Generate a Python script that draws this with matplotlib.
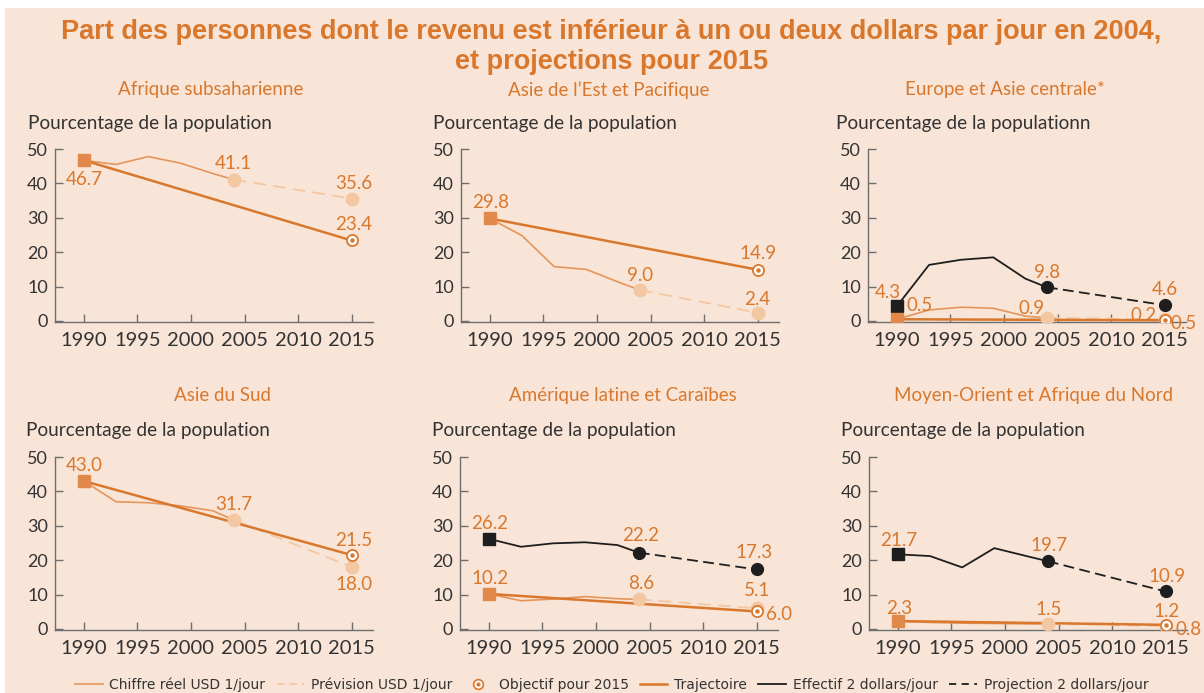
import matplotlib.pyplot as plt
from matplotlib.lines import Line2D
from matplotlib.patches import Rectangle

# --- data -------------------------------------------------------------
years_real = [1990, 1993, 1996, 1999, 2002, 2004]
years_proj = [2004, 2015]
years_traj = [1990, 2015]

regions = ["Afrique subsaharienne", "Asie de l\u2019Est et Pacifique", "Europe et Asie centrale*",
           "Asie du Sud", "Amérique latine et Caraïbes", "Moyen-Orient et Afrique du Nord"]
ylabels = ["Pourcentage de la population", "Pourcentage de la population",
           "Pourcentage de la populationn", "Pourcentage de la population",
           "Pourcentage de la population", "Pourcentage de la population"]

# 1 dollar par jour : chiffres reels 1990-2004
reel_1 = [
    [46.7, 45.5, 47.8, 45.9, 42.9, 41.1],
    [29.8, 24.8, 15.8, 15.0, 11.3, 9.0],
    [0.5, 3.2, 4.0, 3.7, 1.4, 0.9],
    [43.0, 37.0, 36.7, 35.8, 34.4, 31.7],
    [10.2, 8.2, 8.7, 9.4, 8.8, 8.6],
    [2.3, 1.9, 1.7, 1.6, 1.5, 1.5],
]
prevision_1 = [35.6, 2.4, 0.5, 18.0, 6.0, 0.8]
objectif_1 = [23.4, 14.9, 0.2, 21.5, 5.1, 1.2]

# 2 dollars par jour (seulement trois regions)
effectif_2 = [
    None,
    None,
    [4.3, 16.3, 17.8, 18.5, 12.3, 9.8],
    None,
    [26.2, 23.9, 24.9, 25.2, 24.4, 22.2],
    [21.7, 21.2, 17.9, 23.5, 21.2, 19.7],
]
projection_2 = [None, None, 4.6, None, 17.3, 10.9]

# --- layout / style ---------------------------------------------------
W, H = 1204, 693
BG = "#f8e5d8"
ORANGE = "#d9782d"
ORANGE_REEL = "#e5955a"
ORANGE_SQ = "#e0894a"
PEACH = "#f4c7a3"
BLACK = "#1e1e1e"
GREY = "#333333"
FONT = ["Lato", "DejaVu Sans"]

axes_px = [(55, 149), (461, 149), (868, 149), (55, 457), (460, 457), (869, 457)]
title_px = [(211, 90), (609, 90), (1005, 90), (223, 395), (623, 395), (1034, 395)]
ylabel_px = [(28, 123), (433, 123), (836, 123), (26, 430), (432, 430), (841, 430)]

# label offsets in pixels from the point
offsets = [
    {"debut": (0, -19), "fin": (0, 16), "prev": (2, 15), "obj": (2, 16)},
    {"debut": (1, 16), "fin": (0, 15), "prev": (0, 13), "obj": (0, 16)},
    {"debut": (23, 14), "fin": (-15, 9), "prev": (19, -4), "obj": (-21, 5),
     "eff_debut": (-9, 14), "eff_fin": (0, 15), "proj": (0, 16)},
    {"debut": (0, 16), "fin": (0, 15), "prev": (2, -17), "obj": (2, 15)},
    {"debut": (1, 15), "fin": (2, 16), "prev": (22, -6), "obj": (0, 21),
     "eff_debut": (1, 15), "eff_fin": (2, 17), "proj": (-3, 17)},
    {"debut": (1, 13), "fin": (1, 14), "prev": (23, -3), "obj": (1, 13),
     "eff_debut": (1, 14), "eff_fin": (1, 16), "proj": (1, 15)},
]

fig = plt.figure(figsize=(W / 100, H / 100), dpi=100, facecolor="white")
fig.patches.append(Rectangle((5 / W, 0), 1, 1 - 8 / H, transform=fig.transFigure,
                             facecolor=BG, edgecolor="none", zorder=-5))

fig.text(0.508, 1 - 32 / H, "Part des personnes dont le revenu est inférieur à un ou deux dollars par jour en 2004,",
         ha="center", va="center", color=ORANGE, fontsize=19.5, fontweight="bold",
         family="Liberation Sans")
fig.text(0.508, 1 - 62 / H, "et projections pour 2015", ha="center", va="center",
         color=ORANGE, fontsize=19.5, fontweight="bold", family="Liberation Sans")


def label(ax, x, y, txt, off):
    ax.annotate(txt, (x, y), xytext=off, textcoords="offset pixels", ha="center",
                va="center", color=ORANGE, fontsize=13.5, family=FONT, zorder=10)


def target(ax, x, y):
    ax.plot(x, y, "o", ms=8, mfc="white", mec=ORANGE, mew=1.3, zorder=6)
    ax.plot(x, y, "o", ms=2.2, color=ORANGE, zorder=7)


for i in range(6):
    lx, ty = axes_px[i]
    ax = fig.add_axes([lx / W, 1 - (ty + 173) / H, 318 / W, 173 / H])
    ax.set_facecolor("none")
    ax.set_xlim(1987.3, 2017)
    ax.set_ylim(-0.3, 50)
    for s in ["top", "right"]:
        ax.spines[s].set_visible(False)
    for s in ["left", "bottom"]:
        ax.spines[s].set_color("#6e6e6e")
        ax.spines[s].set_linewidth(1)
    ax.set_xticks([1990, 1995, 2000, 2005, 2010, 2015])
    ax.set_yticks([0, 10, 20, 30, 40, 50])
    ax.tick_params(direction="in", length=6, width=1, color="#6e6e6e", labelcolor=GREY)
    ax.tick_params(axis="x", labelsize=14.5, pad=7)
    ax.tick_params(axis="y", labelsize=13, pad=5)
    for t in ax.get_xticklabels() + ax.get_yticklabels():
        t.set_family(FONT)

    off = offsets[i]
    r = reel_1[i]
    # 2 dollars
    if effectif_2[i] is not None:
        e = effectif_2[i]
        ax.plot(years_real, e, color=BLACK, lw=1.3, zorder=4)
        ax.plot(years_proj, [e[-1], projection_2[i]], color=BLACK, lw=1.3,
                dashes=(6, 3), zorder=4)
        ax.plot(years_real[0], e[0], "s", ms=9, color=BLACK, zorder=5)
        ax.plot(years_proj, [e[-1], projection_2[i]], "o", ms=8.5, color=BLACK, zorder=5)
        label(ax, years_real[0], e[0], f"{e[0]:.1f}", off["eff_debut"])
        label(ax, years_proj[0], e[-1], f"{e[-1]:.1f}", off["eff_fin"])
        label(ax, years_proj[1], projection_2[i], f"{projection_2[i]:.1f}", off["proj"])

    # 1 dollar
    ax.plot(years_proj, [r[-1], prevision_1[i]], color=PEACH, lw=1.3, dashes=(7, 4), zorder=2)
    ax.plot(years_real, r, color=ORANGE_REEL, lw=1.2, zorder=3)
    ax.plot(years_traj, [r[0], objectif_1[i]], color=ORANGE, lw=1.8, zorder=3)
    ax.plot(years_proj, [r[-1], prevision_1[i]], "o", ms=9, color=PEACH, zorder=4)
    ax.plot(years_real[0], r[0], "s", ms=9, color=ORANGE_SQ, zorder=5)
    target(ax, years_traj[1], objectif_1[i])
    label(ax, years_real[0], r[0], f"{r[0]:.1f}", off["debut"])
    label(ax, years_proj[0], r[-1], f"{r[-1]:.1f}", off["fin"])
    label(ax, years_proj[1], prevision_1[i], f"{prevision_1[i]:.1f}", off["prev"])
    label(ax, years_traj[1], objectif_1[i], f"{objectif_1[i]:.1f}", off["obj"])

    tx, tyy = title_px[i]
    fig.text(tx / W, 1 - tyy / H, regions[i], ha="center", va="center", color=ORANGE,
             fontsize=13.5, family=FONT)
    yx, yy = ylabel_px[i]
    fig.text(yx / W, 1 - yy / H, ylabels[i], ha="left", va="center", color=GREY,
             fontsize=13.7, family=FONT)

# legend
handles = [
    Line2D([], [], color=ORANGE_REEL, lw=1.2),
    Line2D([], [], color=PEACH, lw=1.3, dashes=(4, 3)),
    (Line2D([], [], ls="none", marker="o", ms=7, mfc="white", mec=ORANGE, mew=1.2),
     Line2D([], [], ls="none", marker="o", ms=2, color=ORANGE)),
    Line2D([], [], color=ORANGE, lw=1.8),
    Line2D([], [], color=BLACK, lw=1.3),
    Line2D([], [], color=BLACK, lw=1.3, dashes=(4, 3)),
]
names = ["Chiffre réel USD 1/jour", "Prévision USD 1/jour", "Objectif pour 2015",
         "Trajectoire", "Effectif 2 dollars/jour", "Projection 2 dollars/jour"]
fig.legend(handles, names, loc="center", bbox_to_anchor=(0.508, 1 - 685 / H), ncol=6,
           frameon=False, handlelength=2.0, handletextpad=0.5, columnspacing=0.8,
           prop={"family": "DejaVu Sans", "size": 10}, labelcolor="#333333")

fig.savefig("out.png", dpi=100, facecolor="white")
